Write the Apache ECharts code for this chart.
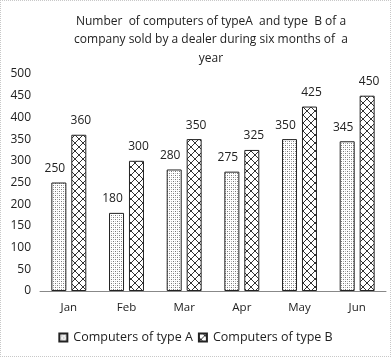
<!DOCTYPE html>
<html><head><meta charset="utf-8">
<script src="https://cdn.jsdelivr.net/npm/echarts@6/dist/echarts.min.js"></script>
<style>html,body{margin:0;padding:0;background:#fff}#c{width:389px;height:355px;border:1px dotted #c8c8c8}</style>
</head><body><div id="c"></div>
<script>
const months = ['Jan','Feb','Mar','Apr','May','Jun'];
const typeA = [250,180,280,275,350,345];
const typeB = [360,300,350,325,425,450];
const titleText = 'Number  of computers of typeA  and type  B of a\ncompany sold by a dealer during six months of  a\nyear';

function dotPattern(){
  const c=document.createElement('canvas');c.width=4;c.height=4;
  const g=c.getContext('2d');g.fillStyle='#fff';g.fillRect(0,0,4,4);
  g.fillStyle='#777';g.fillRect(0,0,1,1);g.fillRect(2,2,1,1);
  g.fillStyle='#bbb';g.fillRect(2,0,1,1);g.fillRect(0,2,1,1);
  return c;
}
function hatchPattern(){
  const c=document.createElement('canvas');c.width=8;c.height=8;
  const g=c.getContext('2d');g.fillStyle='#fff';g.fillRect(0,0,8,8);
  g.strokeStyle='#333';g.lineWidth=1;
  g.beginPath();g.moveTo(-1,9);g.lineTo(9,-1);g.stroke();
  g.beginPath();g.moveTo(0,4);g.lineTo(4,8);g.stroke();
  g.beginPath();g.moveTo(4,0);g.lineTo(8,4);g.stroke();
  return c;
}
const pA={image:dotPattern(),repeat:'repeat'};
const pB={image:hatchPattern(),repeat:'repeat'};
const font='"Open Sans", "Liberation Sans", Arial, sans-serif';
const chart=echarts.init(document.getElementById('c'));
chart.setOption({
  animation:false,
  textStyle:{fontFamily:font},
  title:{text:titleText,left:205,textAlign:'center',top:6,textStyle:{fontSize:12,fontWeight:'normal',color:'#222',lineHeight:18.5,fontFamily:font}},
  grid:{left:39,right:4,top:73,bottom:65},
  legend:{bottom:7,left:'center',itemWidth:8,itemHeight:8,itemGap:5,textStyle:{fontSize:12.5,color:'#222',padding:[0,0,0,1]},
    data:[{name:'Computers of type A',icon:'rect'},{name:'Computers of type B',icon:'rect'}]},
  xAxis:{type:'category',data:months,axisTick:{show:false},axisLine:{lineStyle:{color:'#888',width:1}},
    axisLabel:{fontSize:11.5,color:'#222',margin:11}},
  yAxis:{type:'value',min:0,max:500,interval:50,splitLine:{show:false},axisLine:{show:false},axisTick:{show:false},
    axisLabel:{fontSize:12,color:'#222',margin:9}},
  series:[
    {name:'Computers of type A',type:'bar',data:typeA,barWidth:15,barGap:'33%',
     itemStyle:{color:pA,borderColor:'#222',borderWidth:1},
     label:{show:true,position:'top',distance:8,fontSize:12,color:'#222',offset:[-4,0]}},
    {name:'Computers of type B',type:'bar',data:typeB,barWidth:15,
     itemStyle:{color:pB,borderColor:'#222',borderWidth:1},
     label:{show:true,position:'top',distance:8,fontSize:12,color:'#222',offset:[2,0]}}
  ]
});
</script></body></html>
